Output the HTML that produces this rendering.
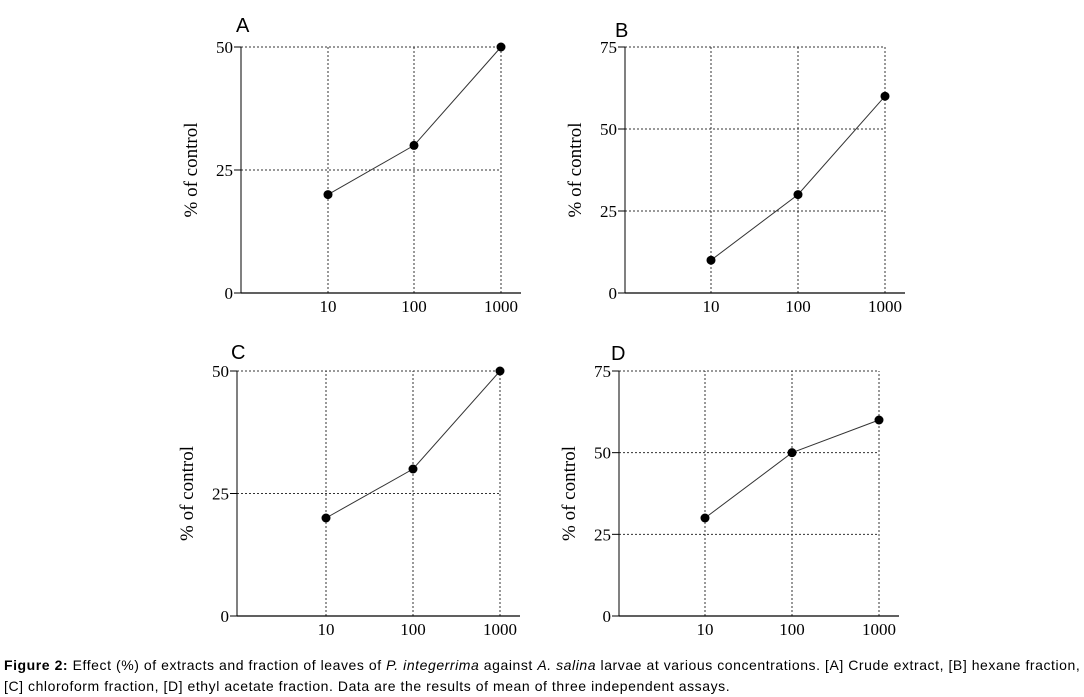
<!DOCTYPE html>
<html><head><meta charset="utf-8"><style>
body{margin:0;background:#fff;width:1084px;height:697px;overflow:hidden;position:relative}
svg{position:absolute;left:0;top:0}
.cap{position:absolute;left:4px;top:655px;width:1100px;white-space:nowrap;font:14px "Liberation Sans",sans-serif;letter-spacing:0.56px;line-height:21px;color:#000}
</style></head><body>
<svg id="chart" width="1084" height="650" xmlns="http://www.w3.org/2000/svg"></svg>
<div class="cap"><b>Figure 2:</b> Effect (%) of extracts and fraction of leaves of <i>P. integerrima</i> against <i>A. salina</i> larvae at various concentrations. [A] Crude extract, [B] hexane fraction,<br>[C] chloroform fraction, [D] ethyl acetate fraction. Data are the results of mean of three independent assays.</div>
<script>
const categories=["10","100","1000"];
const valuesA=[20,30,50];
const valuesB=[10,30,60];
const valuesC=[20,30,50];
const valuesD=[30,50,60];
const yTicksA=[0,25,50];
const yTicksB=[0,25,50,75];
const panels=[
 {id:"a",label:"A",vals:valuesA,ticks:yTicksA,ax:241,y0:293,top:47,xs:[328,414,501],lx:236,ly:32},
 {id:"b",label:"B",vals:valuesB,ticks:yTicksB,ax:625,y0:293,top:47,xs:[711,798,885],lx:615,ly:37},
 {id:"c",label:"C",vals:valuesC,ticks:yTicksA,ax:237,y0:616,top:371,xs:[326,413,500],lx:231,ly:359},
 {id:"d",label:"D",vals:valuesD,ticks:yTicksB,ax:619,y0:616,top:371,xs:[705,792,879],lx:611,ly:360}
];
const svg=document.getElementById('chart');
const NS="http://www.w3.org/2000/svg";
function mk(t,a,p){const e=document.createElementNS(NS,t);for(const k in a)e.setAttribute(k,a[k]);(p||svg).appendChild(e);return e;}
panels.forEach(P=>{
 const g=mk('g',{});
 
 
 const ymax=P.ticks[P.ticks.length-1];
 const ys=v=>P.y0-(v/ymax)*(P.y0-P.top);
 const xs=i=>P.xs[i];
 const right=xs(categories.length-1);
 P.ticks.forEach(t=>{ if(t===0)return;
  const l=mk('line',{x1:P.ax,x2:right,y1:ys(t),y2:ys(t),stroke:'#333','stroke-width':1,'stroke-dasharray':'2,2'},g);
  
  
 });
 categories.forEach((c,i)=>{
  const l=mk('line',{x1:xs(i),x2:xs(i),y1:P.y0,y2:P.top,stroke:'#333','stroke-width':1,'stroke-dasharray':'2,2'},g);
  
  
  const t=mk('text',{x:xs(i),y:P.y0+19,'text-anchor':'middle','font-family':'Liberation Serif, serif','font-size':17},g);
  t.textContent=c;
  
  
 });
 const ya=mk('line',{x1:P.ax,x2:P.ax,y1:P.y0,y2:P.top,stroke:'#000','stroke-width':1},g);
 
 
 const xa=mk('line',{x1:P.ax,x2:right+20,y1:P.y0,y2:P.y0,stroke:'#000','stroke-width':1.3},g);
 
 
 P.ticks.forEach(t=>{
  mk('line',{x1:P.ax-7,x2:P.ax,y1:ys(t),y2:ys(t),stroke:'#000'},g);
  const tx=mk('text',{x:P.ax-8,y:ys(t)+6,'text-anchor':'end','font-family':'Liberation Serif, serif','font-size':17},g);
  tx.textContent=t;
  
  
 });
 const yt=mk('text',{x:0,y:0,'text-anchor':'middle','font-family':'Liberation Serif, serif','font-size':19,transform:`translate(${P.ax-44},${(P.y0+P.top)/2}) rotate(-90)`},g);
 yt.textContent='% of control';
 
 
 const lb=mk('text',{x:P.lx,y:P.ly,'font-family':'Liberation Sans, sans-serif','font-size':20},g);
 lb.textContent=P.label;
 
 
 const pts=P.vals.map((v,i)=>xs(i)+','+ys(v)).join(' ');
 const pl=mk('polyline',{points:pts,fill:'none',stroke:'#333','stroke-width':1},g);
 
 
 P.vals.forEach((v,i)=>{
  const c=mk('circle',{cx:xs(i),cy:ys(v),r:4.5,fill:'#000'},g);
  
  
 });
});
</script>
</body></html>
